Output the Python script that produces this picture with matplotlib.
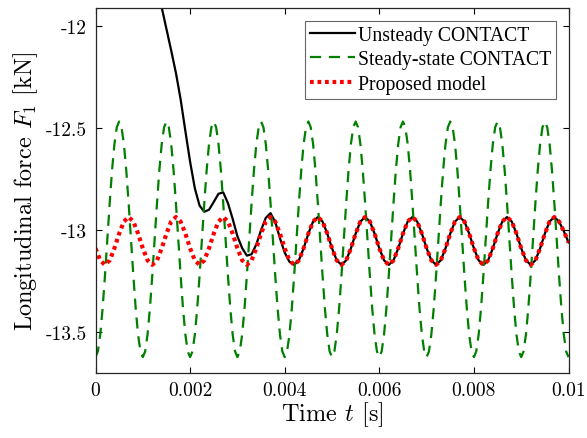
import numpy as np
import matplotlib
matplotlib.use('Agg')
import matplotlib.pyplot as plt

# time grids (s)
t_fine = np.linspace(0, 0.01, 201)
t_coarse = np.linspace(0, 0.01, 101)

# Steady-state CONTACT, sampled every 0.05 ms [kN]
steady = [
    -13.622, -13.594, -13.512, -13.384, -13.223, -13.045, -12.867, -12.706, -12.578, -12.496,
    -12.468, -12.496, -12.578, -12.706, -12.867, -13.045, -13.223, -13.384, -13.512, -13.594,
    -13.622, -13.594, -13.512, -13.384, -13.223, -13.045, -12.867, -12.706, -12.578, -12.496,
    -12.468, -12.496, -12.578, -12.706, -12.867, -13.045, -13.223, -13.384, -13.512, -13.594,
    -13.622, -13.594, -13.512, -13.384, -13.223, -13.045, -12.867, -12.706, -12.578, -12.496,
    -12.468, -12.496, -12.578, -12.706, -12.867, -13.045, -13.223, -13.384, -13.512, -13.594,
    -13.622, -13.594, -13.512, -13.384, -13.223, -13.045, -12.867, -12.706, -12.578, -12.496,
    -12.468, -12.496, -12.578, -12.706, -12.867, -13.045, -13.223, -13.384, -13.512, -13.594,
    -13.622, -13.594, -13.512, -13.384, -13.223, -13.045, -12.867, -12.706, -12.578, -12.496,
    -12.468, -12.496, -12.578, -12.706, -12.867, -13.045, -13.223, -13.384, -13.512, -13.594,
    -13.622, -13.594, -13.512, -13.384, -13.223, -13.045, -12.867, -12.706, -12.578, -12.496,
    -12.468, -12.496, -12.578, -12.706, -12.867, -13.045, -13.223, -13.384, -13.512, -13.594,
    -13.622, -13.594, -13.512, -13.384, -13.223, -13.045, -12.867, -12.706, -12.578, -12.496,
    -12.468, -12.496, -12.578, -12.706, -12.867, -13.045, -13.223, -13.384, -13.512, -13.594,
    -13.622, -13.594, -13.512, -13.384, -13.223, -13.045, -12.867, -12.706, -12.578, -12.496,
    -12.468, -12.496, -12.578, -12.706, -12.867, -13.045, -13.223, -13.384, -13.512, -13.594,
    -13.622, -13.594, -13.512, -13.384, -13.223, -13.045, -12.867, -12.706, -12.578, -12.496,
    -12.468, -12.496, -12.578, -12.706, -12.867, -13.045, -13.223, -13.384, -13.512, -13.594,
    -13.622, -13.594, -13.512, -13.384, -13.223, -13.045, -12.867, -12.706, -12.578, -12.496,
    -12.468, -12.496, -12.578, -12.706, -12.867, -13.045, -13.223, -13.384, -13.512, -13.594,
    -13.622,
]

# Proposed model, sampled every 0.1 ms [kN]
proposed = [
    -13.089, -13.148, -13.170, -13.148, -13.089, -13.017, -12.958, -12.936, -12.958, -13.017,
    -13.089, -13.148, -13.170, -13.148, -13.089, -13.017, -12.958, -12.936, -12.958, -13.017,
    -13.089, -13.148, -13.170, -13.148, -13.089, -13.017, -12.958, -12.936, -12.958, -13.017,
    -13.089, -13.148, -13.170, -13.148, -13.089, -13.017, -12.958, -12.936, -12.958, -13.017,
    -13.089, -13.148, -13.170, -13.148, -13.089, -13.017, -12.958, -12.936, -12.958, -13.017,
    -13.089, -13.148, -13.170, -13.148, -13.089, -13.017, -12.958, -12.936, -12.958, -13.017,
    -13.089, -13.148, -13.170, -13.148, -13.089, -13.017, -12.958, -12.936, -12.958, -13.017,
    -13.089, -13.148, -13.170, -13.148, -13.089, -13.017, -12.958, -12.936, -12.958, -13.017,
    -13.089, -13.148, -13.170, -13.148, -13.089, -13.017, -12.958, -12.936, -12.958, -13.017,
    -13.089, -13.148, -13.170, -13.148, -13.089, -13.017, -12.958, -12.936, -12.958, -13.005,
    -13.060,
]

# Unsteady CONTACT, from 1.2 ms, every 0.1 ms [kN]
t_unsteady = t_coarse[12:]
unsteady = [
    -11.700, -11.805, -11.910, -12.015, -12.120, -12.230, -12.360, -12.515, -12.665, -12.795,
    -12.880, -12.910, -12.900, -12.862, -12.822, -12.815, -12.868, -12.945, -13.030, -13.088,
    -13.125, -13.118, -13.070, -13.000, -12.940, -12.917, -12.960, -13.040, -13.110, -13.155,
    -13.170, -13.148, -13.089, -13.017, -12.958, -12.936, -12.958, -13.017,
    -13.089, -13.148, -13.170, -13.148, -13.089, -13.017, -12.958, -12.936, -12.958, -13.017,
    -13.089, -13.148, -13.170, -13.148, -13.089, -13.017, -12.958, -12.936, -12.958, -13.017,
    -13.089, -13.148, -13.170, -13.148, -13.089, -13.017, -12.958, -12.936, -12.958, -13.017,
    -13.089, -13.148, -13.170, -13.148, -13.089, -13.017, -12.958, -12.936, -12.958, -13.017,
    -13.089, -13.148, -13.170, -13.148, -13.089, -13.017, -12.958, -12.936, -12.958, -13.005,
    -13.060,
]

x_ticks = [0, 0.002, 0.004, 0.006, 0.008, 0.01]
x_labels = ['0', '0.002', '0.004', '0.006', '0.008', '0.01']
y_ticks = [-13.5, -13, -12.5, -12]
y_labels = ['-13.5', '-13', '-12.5', '-12']

plt.rcParams['mathtext.fontset'] = 'cm'
plt.rcParams['axes.unicode_minus'] = False

fig = plt.figure(figsize=(5.87, 4.39), dpi=100)
ax = fig.add_axes([0.1627, 0.148, 0.8058, 0.8315])

ax.plot(t_unsteady, unsteady, color='black', lw=1.6, label='Unsteady CONTACT')
ax.plot(t_fine, steady, color=(0, 0.5, 0), lw=1.6, dashes=(5, 3.5), label='Steady-state CONTACT')
ax.plot(t_coarse, proposed, color='red', lw=3.0, linestyle=(0, (0.9, 0.9)), label='Proposed model')

ax.set_xlim(0, 0.01)
ax.set_ylim(-13.7, -11.912)
ax.set_xticks(x_ticks)
ax.set_xticklabels(x_labels, fontfamily='cmr10', fontsize=14)
ax.set_yticks(y_ticks)
ax.set_yticklabels(y_labels, fontfamily='cmr10', fontsize=14)
ax.tick_params(direction='in', top=True, right=True, length=4, width=0.8, pad=6)
for s in ax.spines.values():
    s.set_linewidth(0.9)
    s.set_color('#262626')

ax.set_xlabel(r'Time $t$ [s]', fontfamily='cmr10', fontsize=17.5, labelpad=0)
ax.set_ylabel(r'Longitudinal force $F_1$ [kN]', fontfamily='cmr10', fontsize=17.5, labelpad=4)

leg = ax.legend(loc='upper right', bbox_to_anchor=(0.974, 0.965), fancybox=False,
                prop={'family': 'Liberation Serif', 'size': 14.2}, handlelength=2.3,
                handletextpad=0.15, borderpad=0.25, labelspacing=0.28, borderaxespad=0.0)
leg.get_frame().set_edgecolor('#404040')
leg.get_frame().set_linewidth(0.8)

plt.savefig('out.png', dpi=100)
plt.close()
